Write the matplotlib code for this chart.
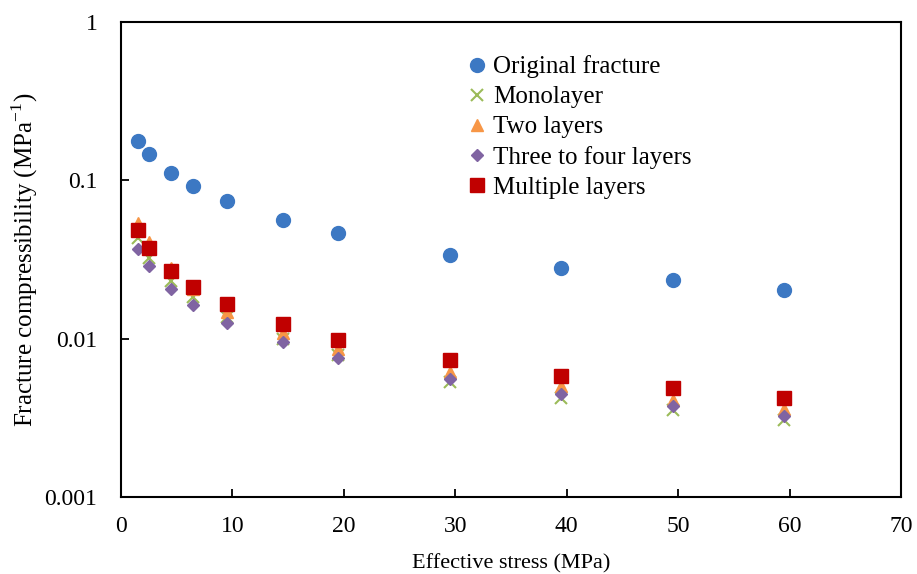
import matplotlib.pyplot as plt

plt.rcParams['font.family'] = ['Liberation Serif', 'DejaVu Serif']
plt.rcParams['mathtext.fontset'] = 'custom'
plt.rcParams['mathtext.rm'] = 'Liberation Serif'

# Effective stress (MPa)
stress = [1.5, 2.5, 4.5, 6.5, 9.5, 14.5, 19.5, 29.5, 39.5, 49.5, 59.5]

# Fracture compressibility (MPa^-1)
original = [0.177, 0.146, 0.111, 0.0916, 0.0736, 0.0558, 0.0462, 0.034, 0.028, 0.0236, 0.0204]
monolayer = [0.0434, 0.0324, 0.0231, 0.0184, 0.0138, 0.0099, 0.0079, 0.0053, 0.00424, 0.00356, 0.00307]
two_layers = [0.054, 0.0405, 0.028, 0.0205, 0.0147, 0.0109, 0.0086, 0.0062, 0.0050, 0.0041, 0.00359]
three_four = [0.0366, 0.0287, 0.0206, 0.0163, 0.0126, 0.0095, 0.0076, 0.00556, 0.00449, 0.00373, 0.00326]
multiple = [0.0483, 0.0375, 0.0269, 0.0212, 0.0166, 0.0124, 0.00986, 0.0073, 0.00583, 0.00488, 0.00423]

fig = plt.figure(figsize=(9.17, 5.74), dpi=100)
ax = fig.add_axes([121 / 917, 1 - 497 / 574, 780 / 917, 475 / 574])

ax.plot(stress, original, 'o', color='#3C78C3', ms=10, label='Original fracture')
ax.plot(stress, monolayer, 'x', color='#9BBB59', ms=8, mew=1.5, label='Monolayer')
ax.plot(stress, two_layers, '^', color='#F79646', ms=8, label='Two layers')
ax.plot(stress, three_four, 'D', color='#8064A2', ms=6.5, label='Three to four layers')
ax.plot(stress, multiple, 's', color='#C00000', ms=9.5, label='Multiple layers')

ax.set_yscale('log')
ax.set_xlim(0, 70)
ax.set_ylim(0.001, 1)
ax.set_xticks(range(0, 71, 10))
ax.set_yticks([0.001, 0.01, 0.1, 1])
ax.set_yticklabels(['0.001', '0.01', '0.1', '1'])
ax.minorticks_off()
ax.tick_params(direction='in', length=6, width=1.3, labelsize=17)
ax.tick_params(axis='x', pad=14)
ax.tick_params(axis='y', pad=17)
for s in ax.spines.values():
    s.set_linewidth(1.5)

ax.set_xlabel('Effective stress (MPa)', fontsize=16, labelpad=12)
ax.set_ylabel('Fracture compressibility (MPa$^{\\mathregular{-1}}$)', fontsize=18, labelpad=3)

ax.legend(loc='upper left', bbox_to_anchor=(0.431, 0.956), frameon=False, fontsize=18,
          handlelength=0.6, handletextpad=0.35, labelspacing=0.3, borderpad=0)

fig.savefig('out.png', dpi=100)
